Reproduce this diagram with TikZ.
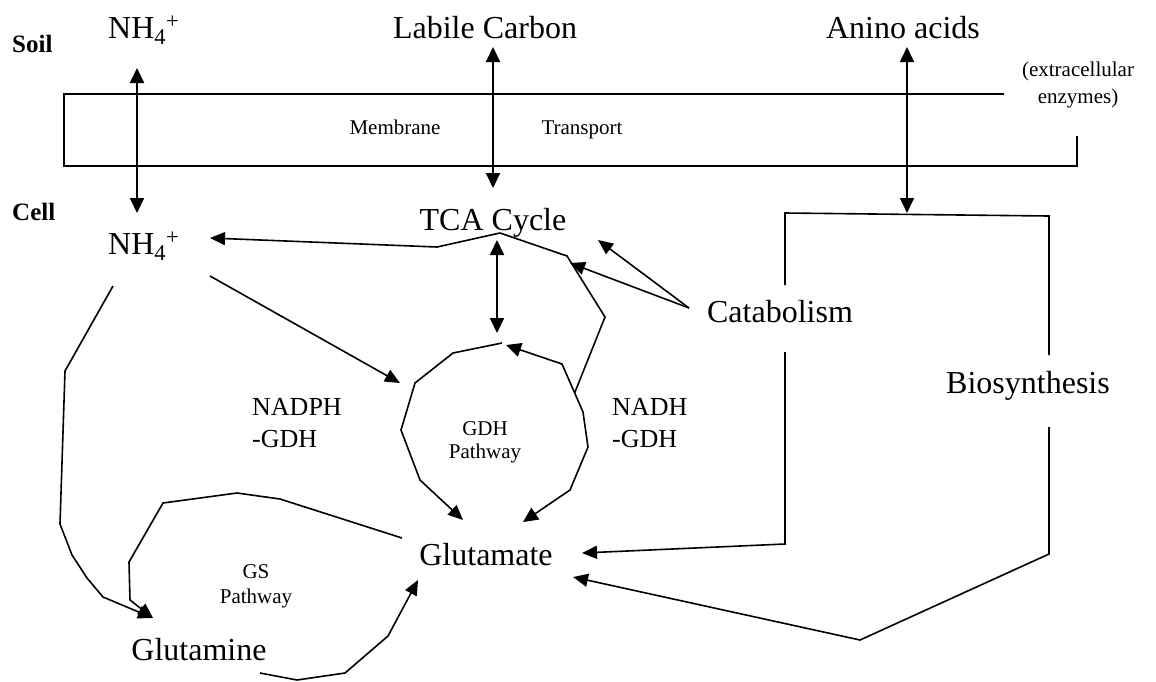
\documentclass[tikz,border=0pt]{standalone}
\usepackage{fontspec}
\setmainfont{Liberation Serif}
\usetikzlibrary{arrows.meta}
\begin{document}
\begin{tikzpicture}[x=1pt,y=-1pt,
  ln/.style={line width=1.6pt, line join=miter},
  thk/.style={line width=2pt},
  tip/.style={-{Triangle[length=15pt,width=13pt]}},
  dtip/.style={{Triangle[length=15pt,width=14pt]}-{Triangle[length=15pt,width=14pt]}},
  big/.style={font=\fontsize{32}{34}\selectfont, inner sep=0pt, anchor=base},
  mid/.style={font=\fontsize{26}{30}\selectfont, inner sep=0pt, anchor=base west},
  small/.style={font=\fontsize{21}{23}\selectfont, inner sep=0pt, anchor=base},
  side/.style={font=\fontsize{25}{27}\selectfont\bfseries, inner sep=0pt, anchor=base west}]
\useasboundingbox (0,0) rectangle (1156,681);
% labels
\node[side] (soil) at (12,52) {Soil};
\node[side] (cell) at (12,220) {Cell};
\node[big, anchor=base west] (nh4s) at (108,38) {NH\textsubscript{4}\textsuperscript{+}};
\node[big] (lab) at (485,38) {Labile Carbon};
\node[big] (amino) at (903,38) {Anino acids};
\node[small] (ext1) at (1078,76) {(extracellular};
\node[small] (ext2) at (1078,103) {enzymes)};
\node[small] (memb) at (395,134) {Membrane};
\node[small] (trans) at (582,134) {Transport};
\node[big, anchor=base west] (nh4c) at (108,254) {NH\textsubscript{4}\textsuperscript{+}};
\node[big] (tca) at (493,230) {TCA Cycle};
\node[big] (cat) at (780,322) {Catabolism};
\node[big] (bio) at (1028,393) {Biosynthesis};
\node[mid] (nadph1) at (252,415) {NADPH};
\node[mid] (nadph2) at (252,447) {-GDH};
\node[mid] (nadh1) at (612,415) {NADH};
\node[mid] (nadh2) at (612,447) {-GDH};
\node[small] (gdh1) at (485,435) {GDH};
\node[small] (gdh2) at (485,458) {Pathway};
\node[big] (glu) at (486,565) {Glutamate};
\node[small] (gs1) at (256,578) {GS};
\node[small] (gs2) at (256,603) {Pathway};
\node[big] (gln) at (199,660) {Glutamine};
% membrane
\draw[ln, line width=1.3pt] (1004,94) -- (64,94) -- (64,166) -- (1077,166) -- (1077,136);
% connector end points
\coordinate (nh4sB) at (137,68);
\coordinate (nh4cT) at (137,213);
\coordinate (labB) at (493,47);
\coordinate (tcaT) at (493,188);
\coordinate (amB) at (907,47);
\coordinate (brT) at (907,213);
\coordinate (tcaB) at (497,240);
\coordinate (gdhT) at (497,333);
\coordinate (nh4cE) at (210,238);
\coordinate (nh4cSE) at (210,276);
\coordinate (nh4cS) at (113,286);
\coordinate (gdhNW) at (400,383);
\coordinate (catW) at (689,308);
\coordinate (tcaE) at (598,240);
\coordinate (brA) at (570,263);
\coordinate (gdhTop) at (502,343);
\coordinate (gdhTopR) at (506,345);
\coordinate (gluNW) at (463,520);
\coordinate (gluNE) at (523,522);
\coordinate (gdhR) at (574.6,393);
\coordinate (gluW) at (402,538);
\coordinate (glnNE) at (153,618);
\coordinate (glnSE) at (260,673);
\coordinate (gluSW) at (418,580);
\coordinate (gluE) at (582,553);
\coordinate (gluSE) at (573,577);
\coordinate (catS) at (785,352);
\coordinate (catN) at (785,285);
\coordinate (bioN) at (1049,355);
\coordinate (bioS) at (1049,427);
% transport arrows
\draw[thk, dtip] (nh4sB) -- (nh4cT);
\draw[thk, dtip] (labB) -- (tcaT);
\draw[ln, dtip] (amB) -- (brT);
\draw[thk, dtip] (tcaB) -- (gdhT);
% TCA branch to NH4+
\draw[ln, tip] (gdhR) -- (605,317) -- (567,256) -- (500,233) -- (437,247) -- (nh4cE);
% catabolism arrows
\draw[ln, tip] (catW) -- (tcaE);
\draw[ln, tip] (catW) -- (brA);
% NH4 to GDH
\draw[ln, tip] (nh4cSE) -- (gdhNW);
% GDH pathway arcs
\draw[ln, tip] (gdhTop) -- (453,353) -- (415,383) -- (401,430) -- (420,480) -- (gluNW);
\draw[ln, dtip] (gdhTopR) -- (562,364) -- (583,412) -- (588,447) -- (570,490) -- (gluNE);
% GS pathway
\draw[ln, tip] (nh4cS) -- (65,371) -- (60,524) -- (72,555) -- (87,578) -- (103,597) -- (glnNE);
\draw[ln, tip] (gluW) -- (280,499) -- (237,493) -- (163,503) -- (129,562) -- (130,600) -- (glnNE);
\draw[ln, tip] (glnSE) -- (297,680) -- (345,673) -- (388,636) -- (gluSW);
% amino acid bracket
\draw[ln] (catN) -- (785,213) -- (1049,216) -- (bioN);
\draw[ln, tip] (catS) -- (785,544) -- (gluE);
\draw[ln, tip] (bioS) -- (1049,554) -- (860,640) -- (gluSE);
\end{tikzpicture}
\end{document}
